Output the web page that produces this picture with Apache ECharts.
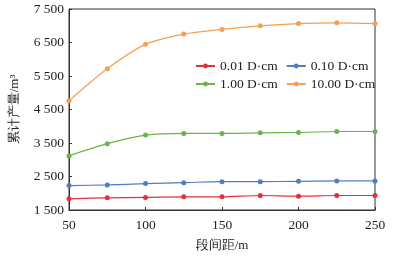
<!DOCTYPE html>
<html><head><meta charset="utf-8">
<script src="https://cdn.jsdelivr.net/npm/echarts@6/dist/echarts.min.js"></script>
<style>html,body{margin:0;padding:0;background:#fff}#c{width:403px;height:257px}</style>
</head><body><div id="c"></div>
<script>
const spacing = [50, 75, 100, 125, 150, 175, 200, 225, 250];
const s001 = [1834, 1864, 1874, 1893, 1893, 1933, 1913, 1933, 1933];
const s010 = [2229, 2248, 2288, 2317, 2347, 2347, 2357, 2367, 2367];
const s100 = [3115, 3480, 3736, 3785, 3785, 3805, 3814, 3844, 3844];
const s1000 = [4760, 5717, 6445, 6751, 6889, 6997, 7066, 7086, 7066];
const names = ['0.01 D·cm', '0.10 D·cm', '1.00 D·cm', '10.00 D·cm'];
const yTicks = [1500, 2500, 3500, 4500, 5500, 6500, 7500];
const colors = ['#e2303d', '#4f7fc0', '#6cb348', '#f4a053'];
const font = 'Liberation Serif';
const allData = [s001, s010, s100, s1000];
const legendBase = {
  left: 190, itemGap: 8, itemWidth: 19, itemHeight: 6,
  textStyle: {fontFamily: font, fontSize: 13.5, color: '#222'}
};
const chart = echarts.init(document.getElementById('c'));
chart.setOption({
  animation: false,
  grid: {left: 65, right: 28, top: 9, bottom: 45, show: true, borderColor: '#333', borderWidth: 1},
  legend: [
    Object.assign({}, legendBase, {top: 54, data: [names[0], names[1]]}),
    Object.assign({}, legendBase, {top: 72, data: [names[2], names[3]]})
  ],
  xAxis: {
    type: 'value', min: 50, max: 250, interval: 50,
    name: '段间距/m', nameLocation: 'middle', nameGap: 29,
    nameTextStyle: {fontFamily: font, fontSize: 13, color: '#222'},
    axisLine: {lineStyle: {color: '#333'}},
    axisTick: {inside: true, length: 3, lineStyle: {color: '#333'}},
    axisLabel: {fontFamily: font, fontSize: 13.5, color: '#222', margin: 8},
    splitLine: {show: false}
  },
  yAxis: {
    type: 'value', min: 1500, max: 7500,
    name: '累计产量/m³', nameLocation: 'middle', nameGap: 48,
    nameTextStyle: {fontFamily: font, fontSize: 13, color: '#222'},
    axisLine: {show: true, lineStyle: {color: '#333'}},
    axisTick: {show: true, inside: true, length: 3, customValues: yTicks, lineStyle: {color: '#333'}},
    axisLabel: {fontFamily: font, fontSize: 13.5, color: '#222', margin: 5, customValues: yTicks,
      formatter: v => String(v).replace(/\B(?=(\d{3})+(?!\d))/g, ' ')},
    splitLine: {show: false}
  },
  series: allData.map((d, i) => ({
    name: names[i], type: 'line', smooth: 0.3,
    data: spacing.map((x, j) => [x, d[j]]),
    symbol: 'circle', symbolSize: 5,
    itemStyle: {color: colors[i]},
    lineStyle: {width: 1.2, color: colors[i]}
  }))
});
</script></body></html>
